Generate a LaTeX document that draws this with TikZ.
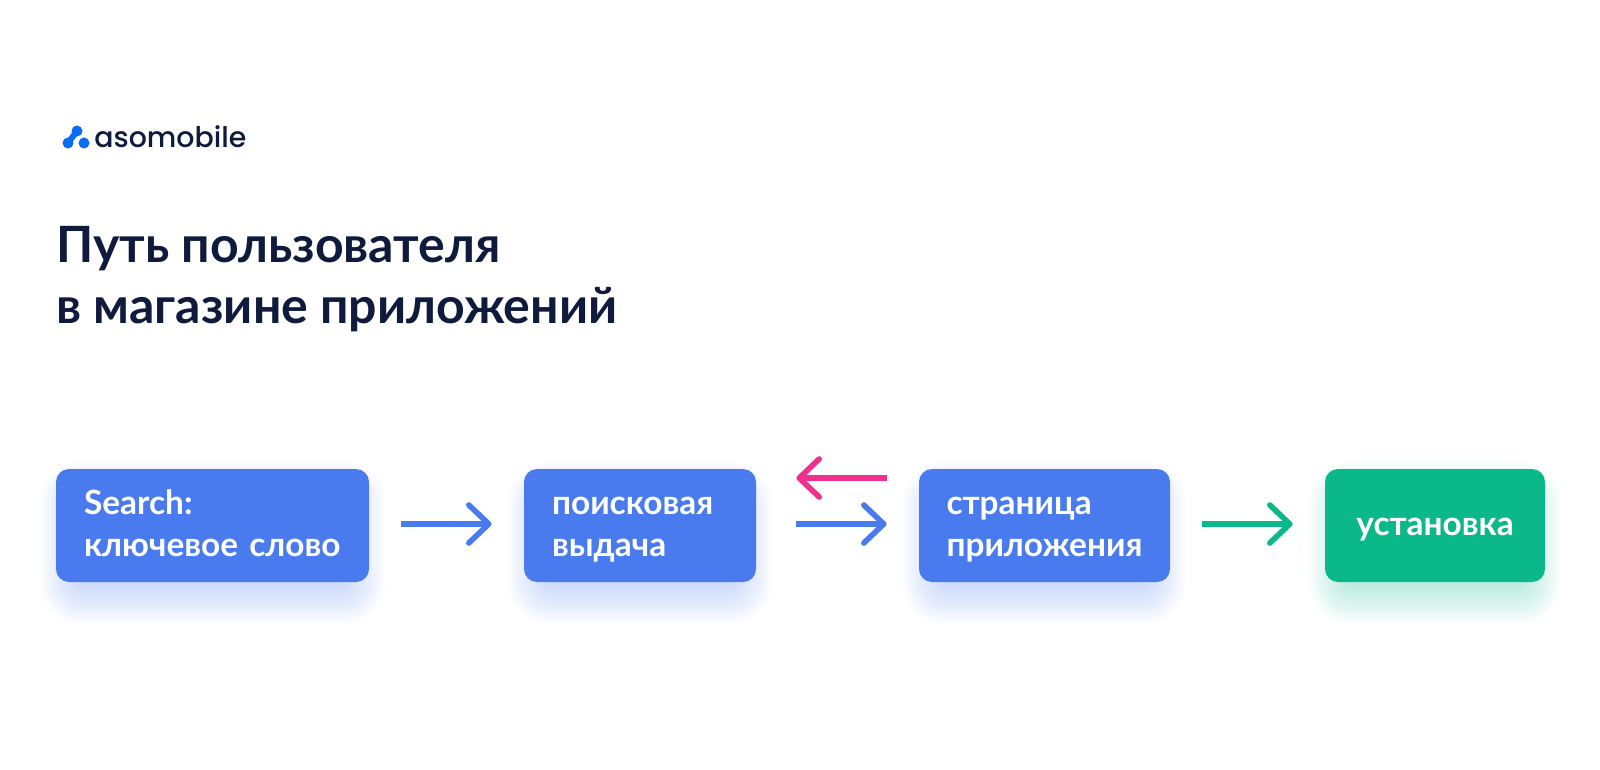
\documentclass[tikz,border=0pt]{standalone}
\usepackage{fontspec}
\setmainfont{Lato}[BoldFont={Lato Bold}]
\newfontfamily\logofont{Poppins Medium}
\usetikzlibrary{arrows.meta,backgrounds,calc}
\definecolor{boxblue}{HTML}{4A7BEE}
\definecolor{boxgreen}{HTML}{0BB88A}
\definecolor{backpink}{HTML}{F0308C}
\definecolor{inkdark}{HTML}{0F1A3C}
\definecolor{logoblue}{HTML}{0A6CF0}
\tikzset{
	stepbox/.style={fill=boxblue, rounded corners=6.5pt, minimum height=56.5pt, inner sep=0pt, text=white, font=\fontsize{16.7}{21}\selectfont\bfseries, align=left, execute at begin node={\rule{0pt}{16.7pt}}, execute at end node={\strut}},
	flow/.style={line width=2.8pt, -{Straight Barb[length=10pt,width=19pt,line cap=round,round]}},
	headline/.style={anchor=base west, inner sep=0pt, text=inkdark, font=\fontsize{25}{30}\selectfont\bfseries},
}
\begin{document}
\begin{tikzpicture}[x=0.5pt,y=-0.5pt]
	\useasboundingbox (0,0) rectangle (1600,770);
	% logo
	\draw[logoblue, line width=3pt, line cap=round] (77,131) -- (68,143);
	\fill[logoblue] (77,131) circle (5.5);
	\fill[logoblue] (68,143) circle (5.5);
	\fill[logoblue] (84,143) circle (5.5);
	\node[anchor=base west, inner sep=0pt, text=inkdark, font=\fontsize{14.2}{18}\logofont] (logo) at (94,148) {asomobile};
	% title
	\node[headline] (title1) at (56,263) {Путь пользователя};
	\node[headline] (title2) at (56,323) {в магазине приложений};
	% boxes
	\node[stepbox, minimum width=156.5pt, text width=128.5pt] (keyword) at (212.5,525.5) {Search:\\ключевое слово};
	\node[stepbox, minimum width=116pt, text width=88pt] (results) at (640,525.5) {поисковая\\выдача};
	\node[stepbox, minimum width=125.5pt, text width=98pt] (page) at (1044.5,525.5) {страница\\приложения};
	\node[stepbox, fill=boxgreen, minimum width=110pt, align=center] (install) at (1435,525.5) {установка};
	% shadows
	\begin{scope}[on background layer]
		\foreach \n/\c in {keyword/boxblue,results/boxblue,page/boxblue,install/boxgreen}
			\foreach \g in {-10,-8,...,30}
				\fill[\c, opacity=0.017, rounded corners={(14+\g)*0.5pt}] ($(\n.north west)+(14-\g,22-\g)$) rectangle ($(\n.south east)+(-14+\g,12+\g)$);
	\end{scope}
	% arrows
	\draw[flow, boxblue, shorten <=16pt, shorten >=16pt] ([yshift=0.75pt]keyword.east) -- ([yshift=0.75pt]results.west);
	\draw[flow, backpink, shorten <=16pt, shorten >=20pt] ([yshift=23.75pt]page.west) -- ([yshift=23.75pt]results.east);
	\draw[flow, boxblue, shorten <=20pt, shorten >=16pt] ([yshift=0.75pt]results.east) -- ([yshift=0.75pt]page.west);
	\draw[flow, boxgreen, shorten <=16pt, shorten >=16pt] ([yshift=0.75pt]page.east) -- ([yshift=0.75pt]install.west);
\end{tikzpicture}
\end{document}
